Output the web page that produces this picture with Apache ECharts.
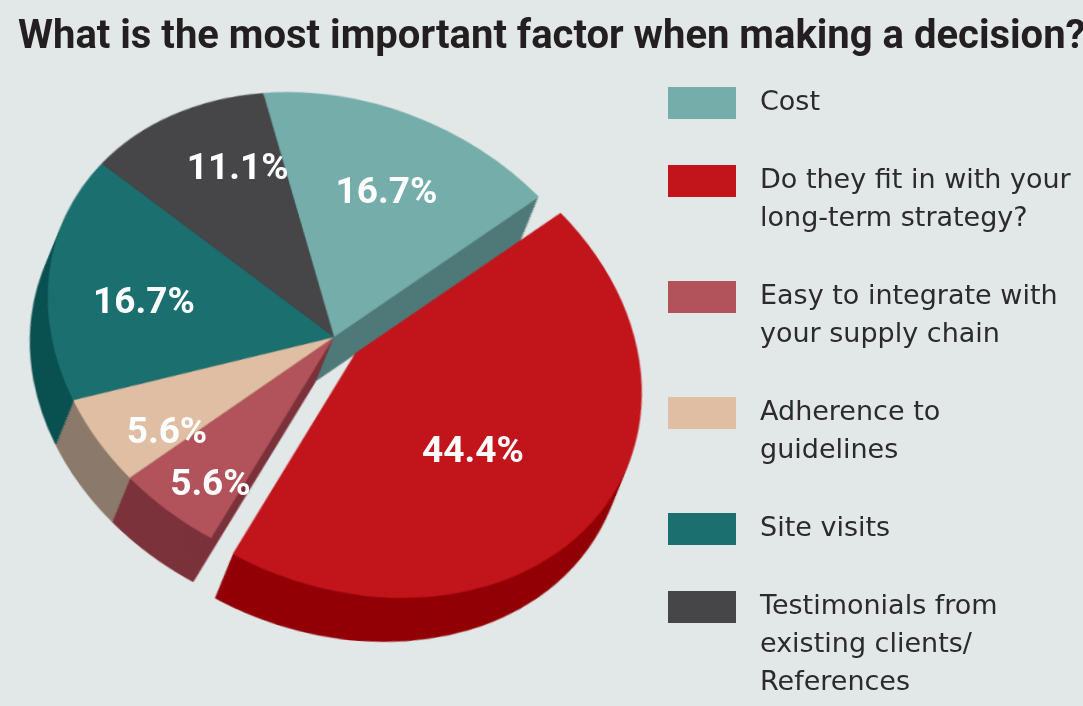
<!DOCTYPE html>
<html>
<head>
<meta charset="utf-8">
<script src="https://cdn.jsdelivr.net/npm/echarts@6/dist/echarts.min.js"></script>
<style>
html, body { margin: 0; padding: 0; background: #e2e7e7; }
#wrap { position: relative; width: 1083px; height: 706px; overflow: hidden; }
/* the pie is drawn round, then tilted with an affine transform around its centre */
#pie { position: absolute; left: 0; top: 0; width: 1083px; height: 706px;
       transform: matrix(0.9777, 0.0739, 0.0739, 0.8356, 0, 0); transform-origin: 334px 337px; }
#main { position: absolute; left: 0; top: 0; width: 1083px; height: 706px; }
</style>
</head>
<body>
<div id="wrap"><div id="pie"></div><div id="main"></div></div>
<script>
var categories = [
    'Cost',
    'Do they fit in with your\nlong-term strategy?',
    'Easy to integrate with\nyour supply chain',
    'Adherence to\nguidelines',
    'Site visits',
    'Testimonials from\nexisting clients/\nReferences'
];
var shares = [16.7, 44.4, 5.6, 5.6, 16.7, 11.1];
var exploded = [false, true, false, false, false, false];
var topColors = ['#74adaa', '#c1141b', '#b2525a', '#dfbea3', '#1c6f6f', '#464548'];
var wallColors = ['#4e7978', '#920006', '#7b323a', '#8b7a6b', '#0a5152', '#2e2d30'];

var CX = 334, CY = 337, R = 292, START = 100;
var DEPTH_X = -22.5, DEPTH_Y = 54.7;   // in the untilted pie's space
var LAYERS = 18;

function sliceData(colors) {
    return categories.map(function (name, i) {
        return { name: name, value: shares[i], selected: exploded[i], itemStyle: { color: colors[i] } };
    });
}

function pieLayer(cx, cy, colors) {
    return {
        type: 'pie',
        center: [cx, cy],
        radius: [0, R],
        startAngle: START,
        clockwise: true,
        selectedMode: 'single',
        selectedOffset: 27,
        silent: true,
        animation: false,
        label: { show: false },
        labelLine: { show: false },
        itemStyle: { borderWidth: 0 },
        emphasis: { disabled: true },
        data: sliceData(colors)
    };
}

// side walls: darker copies stacked from the deepest up, then the top face
var pieSeries = [];
for (var k = LAYERS; k >= 1; k--) {
    pieSeries.push(pieLayer(CX + DEPTH_X * k / LAYERS, CY + DEPTH_Y * k / LAYERS, wallColors));
}
pieSeries.push(pieLayer(CX, CY, topColors));

var pieChart = echarts.init(document.getElementById('pie'));
pieChart.setOption({ backgroundColor: 'transparent', animation: false, series: pieSeries });

// labels, legend and title sit on an untransformed layer
var innerLabels = [0, 1];

function labelRing(radius, useInner) {
    return {
        type: 'pie',
        center: [CX, CY],
        radius: [0, radius],
        startAngle: START,
        clockwise: true,
        selectedMode: 'single',
        selectedOffset: 28,
        silent: true,
        animation: false,
        labelLine: { show: false },
        itemStyle: { color: 'rgba(0,0,0,0)', borderWidth: 0 },
        emphasis: { disabled: true },
        data: categories.map(function (name, i) {
            var show = (innerLabels.indexOf(i) >= 0) === useInner;
            return {
                name: name, value: shares[i], selected: exploded[i],
                label: {
                    show: show, position: 'inside', formatter: '{c}%',
                    color: '#ffffff', fontFamily: 'Roboto', fontWeight: 'bold', fontSize: 37
                }
            };
        })
    };
}

var LINE = 38;
var legends = [];
var legendTop = 87;
categories.forEach(function (name, i) {
    var lines = name.split('\n').length;
    var h = lines * LINE - 6;
    // swatch sits at the top of a box as tall as the text, so it lines up with the first line
    legends.push({
        left: 668,
        top: legendTop - 3,
        padding: 0,
        orient: 'vertical',
        selectedMode: false,
        itemWidth: 68,
        itemHeight: h,
        textStyle: {
            fontFamily: 'DejaVu Sans', fontWeight: 'normal', fontSize: 27, color: '#2b2a2c',
            lineHeight: LINE, padding: [0, 0, 0, 19]
        },
        data: [{
            name: name,
            icon: 'path://M0,0L68,0L68,32L0,32ZM0,' + h + 'L0,' + h,
            itemStyle: { color: topColors[i] }
        }]
    });
    legendTop += lines * LINE + 40;
});

var mainChart = echarts.init(document.getElementById('main'));
mainChart.setOption({
    backgroundColor: 'transparent',
    animation: false,
    title: {
        text: 'What is the most important factor when making a decision?',
        left: 18,
        top: 18,
        padding: 0,
        textStyle: { fontFamily: 'Roboto', fontWeight: 'bold', fontSize: 40, color: '#231f20' }
    },
    legend: legends,
    series: [labelRing(300, true), labelRing(380, false)]
});
</script>
</body>
</html>
